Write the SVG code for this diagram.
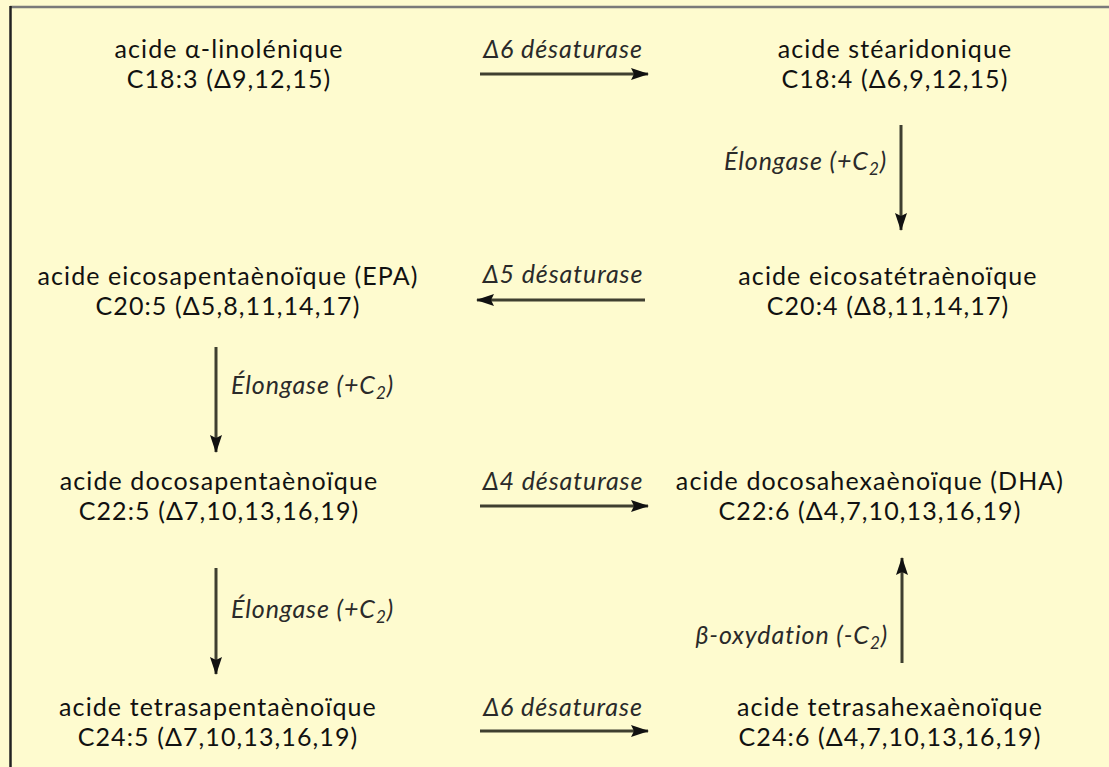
<svg xmlns="http://www.w3.org/2000/svg" width="1109" height="767" viewBox="0 0 1109 767">
<defs>
<style>
.bg{fill:#FEFBCF}
.n{font-family:Lato,"Open Sans",sans-serif;font-size:25px;fill:#111;text-anchor:middle;letter-spacing:1.1px}
.l{font-family:Lato,"Open Sans",sans-serif;font-size:25px;font-style:italic;fill:#2a2a2a;letter-spacing:0.9px}
.c{stroke:#3f3f30;stroke-width:3;fill:none}
.sub{font-size:17px}
</style>
<marker id="ah" viewBox="0 0 18 12" refX="17" refY="6" markerWidth="18" markerHeight="12" markerUnits="userSpaceOnUse" orient="auto">
<path d="M0,0 L18,6 L0,12 L3,6 Z" fill="#111"/>
</marker>
</defs>
<rect class="bg" x="0" y="0" width="1109" height="767"/>
<line x1="10" y1="7" x2="1109" y2="7" stroke="#7a7a7a" stroke-width="2.5"/>
<line x1="10.5" y1="6" x2="10.5" y2="767" stroke="#222" stroke-width="2.5"/>

<g id="connectors">
<line class="c" x1="480" y1="74" x2="648" y2="74" marker-end="url(#ah)"/>
<text class="l" x="563" y="58" text-anchor="middle">Δ6 désaturase</text>
<line class="c" x1="901" y1="125" x2="901" y2="230" marker-end="url(#ah)"/>
<text class="l" x="887" y="170" text-anchor="end">Élongase (+C<tspan class="sub" dy="5">2</tspan><tspan dy="-5">)</tspan></text>
<line class="c" x1="645" y1="300" x2="477" y2="300" marker-end="url(#ah)"/>
<text class="l" x="563" y="283" text-anchor="middle">Δ5 désaturase</text>
<line class="c" x1="216" y1="347" x2="216" y2="452" marker-end="url(#ah)"/>
<text class="l" x="231" y="394">Élongase (+C<tspan class="sub" dy="5">2</tspan><tspan dy="-5">)</tspan></text>
<line class="c" x1="480" y1="506" x2="648" y2="506" marker-end="url(#ah)"/>
<text class="l" x="563" y="490" text-anchor="middle">Δ4 désaturase</text>
<line class="c" x1="216" y1="568" x2="216" y2="674" marker-end="url(#ah)"/>
<text class="l" x="231" y="618">Élongase (+C<tspan class="sub" dy="5">2</tspan><tspan dy="-5">)</tspan></text>
<line class="c" x1="902" y1="663" x2="902" y2="558" marker-end="url(#ah)"/>
<text class="l" x="888" y="644" text-anchor="end">β-oxydation (-C<tspan class="sub" dy="5">2</tspan><tspan dy="-5">)</tspan></text>
<line class="c" x1="480" y1="731" x2="648" y2="731" marker-end="url(#ah)"/>
<text class="l" x="563" y="716" text-anchor="middle">Δ6 désaturase</text>
</g>

<g id="ala"><text class="n" x="229" y="58">acide α-linolénique<tspan x="229" dy="30">C18:3 (Δ9,12,15)</tspan></text></g>
<g id="sda"><text class="n" x="895" y="58">acide stéaridonique<tspan x="895" dy="30">C18:4 (Δ6,9,12,15)</tspan></text></g>
<g id="epa"><text class="n" x="228" y="285">acide eicosapentaènoïque (EPA)<tspan x="228" dy="30">C20:5 (Δ5,8,11,14,17)</tspan></text></g>
<g id="eta"><text class="n" x="888" y="285">acide eicosatétraènoïque<tspan x="888" dy="30">C20:4 (Δ8,11,14,17)</tspan></text></g>
<g id="dpa"><text class="n" x="219" y="490">acide docosapentaènoïque<tspan x="219" dy="30">C22:5 (Δ7,10,13,16,19)</tspan></text></g>
<g id="dha"><text class="n" x="870" y="490">acide docosahexaènoïque (DHA)<tspan x="870" dy="30">C22:6 (Δ4,7,10,13,16,19)</tspan></text></g>
<g id="tpa"><text class="n" x="218" y="716">acide tetrasapentaènoïque<tspan x="218" dy="30">C24:5 (Δ7,10,13,16,19)</tspan></text></g>
<g id="tha"><text class="n" x="890" y="716">acide tetrasahexaènoïque<tspan x="890" dy="30">C24:6 (Δ4,7,10,13,16,19)</tspan></text></g>
</svg>
